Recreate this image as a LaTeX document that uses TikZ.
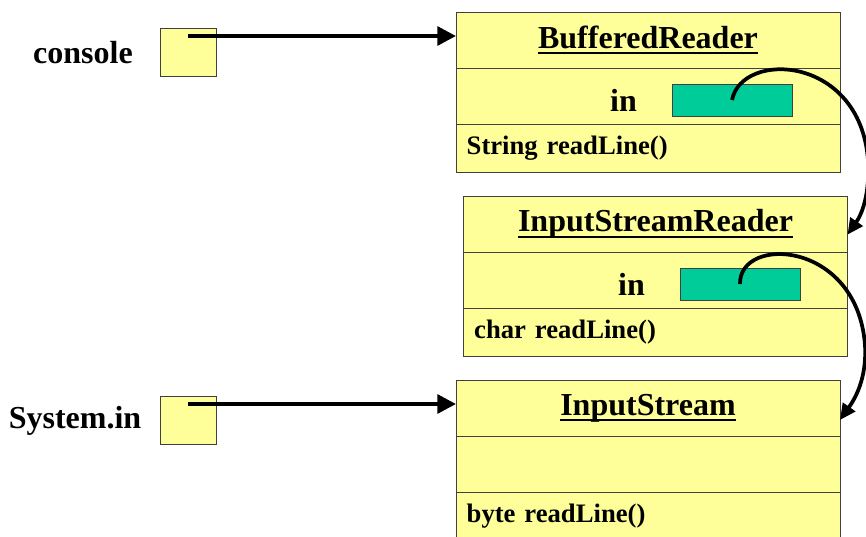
\documentclass[tikz,border=0pt]{standalone}
\usepackage{fontspec}
\setmainfont{Liberation Serif}
\usetikzlibrary{arrows.meta,positioning}
\definecolor{paleyellow}{HTML}{FFFF99}
\definecolor{refgreen}{HTML}{00CC99}
\newcommand{\clsname}[1]{\setbox0\hbox{#1}\rlap{\rule[-4.6pt]{\wd0}{1.7pt}}\box0}
\begin{document}
\begin{tikzpicture}[x=0.75pt,y=-0.75pt,font=\bfseries,
 part/.style={draw=black!75,fill=paleyellow,minimum width=288pt,minimum height=42pt,inner sep=0pt,outer sep=0pt},
 head/.style={part,font=\fontsize{24}{28}\selectfont\bfseries},
 meth/.style={part,minimum height=36pt,text width=272pt,align=left,inner xsep=8pt,font=\fontsize{20}{24}\selectfont\bfseries},
 var/.style={draw=black!75,fill=paleyellow,minimum width=42pt,minimum height=36pt,inner sep=0pt},
 ref/.style={draw=black!75,fill=refgreen,minimum width=90pt,minimum height=24pt,inner sep=0pt},
 lbl/.style={inner sep=0pt,font=\fontsize{24}{28}\selectfont\bfseries},
 link/.style={-{Triangle[length=14pt,width=14pt]},line width=3pt},
 ptr/.style={-{Triangle[length=12pt,width=11pt]},line width=2.8pt}]
\useasboundingbox (0,0) rectangle (866,536);
\clip (0,0) rectangle (866,536);
% BufferedReader
\node[head] (brh) at (648,40) {\clsname{BufferedReader}};
\node[part,below=0pt of brh] (brf) {};
\node[meth,below=0pt of brf] (brm) {String readLine()};
\node[ref] (brin) at (732,100) {};
\node[lbl,left=26pt of brin] (brlbl) {in};
% InputStreamReader
\node[head] (isrh) at (655.5,224) {\clsname{InputStreamReader}};
\node[part,below=0pt of isrh] (isrf) {};
\node[meth,below=0pt of isrf] (isrm) {char readLine()};
\node[ref] (isrin) at (740,284) {};
\node[lbl,left=26pt of isrin] (isrlbl) {in};
% InputStream
\node[head] (ish) at (648,408) {\clsname{InputStream}};
\node[part,below=0pt of ish] (isf) {};
\node[meth,below=0pt of isf] (ism) {byte readLine()};
% variables
\node[var] (cons) at (188,52) {};
\node[lbl] (conslbl) at (83,53) {console};
\node[var] (sys) at (188,420) {};
\node[lbl] (syslbl) at (75,421) {System.in};
\draw[link] ([yshift=3pt]cons.center |- brh.west) -- ([yshift=3pt]brh.west);
\draw[link] ([yshift=3pt]sys.center |- ish.west) -- ([yshift=3pt]ish.west);
\draw[ptr] (brin.center) .. controls +(10,-50) and +(-8,-105) .. ++(136,60)
 .. controls +(2,35) and +(14,-20) .. ([yshift=-8pt]isrh.east);
\draw[ptr] (isrin.center) .. controls +(-1,-49) and +(-8,-105) .. ++(125,61)
 .. controls +(2,35) and +(14,-20) .. ([yshift=-9pt]ish.east);
\end{tikzpicture}
\end{document}
